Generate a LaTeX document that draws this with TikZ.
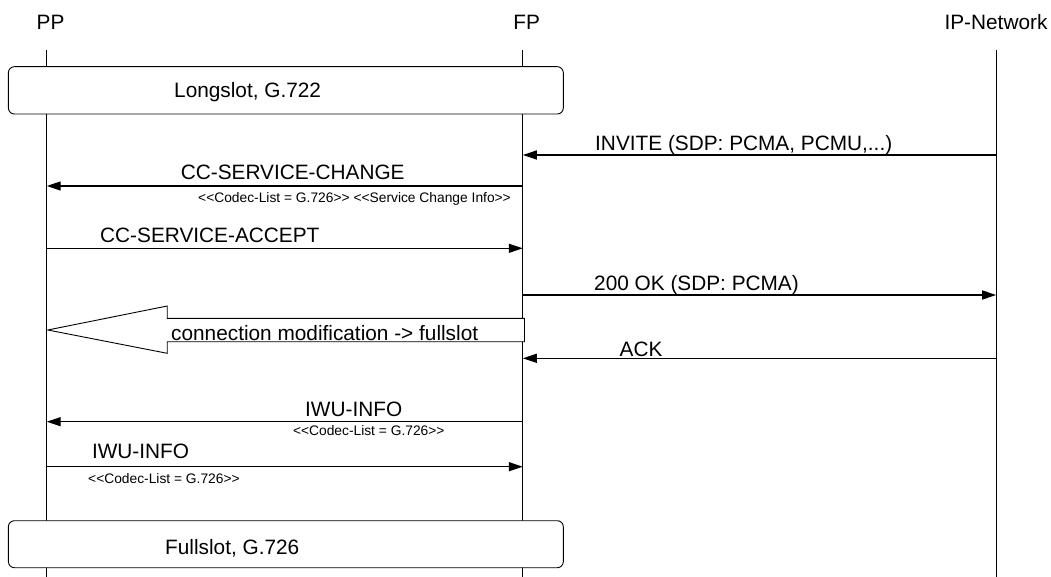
\documentclass[tikz,border=0pt]{standalone}
\usepackage{fontspec}
\setmainfont{Liberation Sans}
\usetikzlibrary{arrows.meta}
\begin{document}
\begin{tikzpicture}[x=1pt,y=-1pt,
  lbl/.style={font=\fontsize{20.8}{24}\selectfont, inner sep=0pt, anchor=base west},
  small/.style={font=\fontsize{13.8}{16}\selectfont, inner sep=0pt, anchor=base west},
  head/.style={font=\fontsize{20.8}{24}\selectfont, inner sep=0pt, anchor=base},
  life/.style={line width=0.9pt},
  msg/.style={line width=1.4pt, -{Triangle[length=14pt,width=9pt]}},
  phase/.style={draw, line width=0.9pt, rounded corners=6pt, fill=white, inner sep=0pt},
  bigarrow/.style={draw, line width=0.9pt, fill=white}]

\useasboundingbox (0,0) rectangle (1051,577);

% headers
\node[head] (PP) at (50.5,30) {PP};
\node[head] (FP) at (526.7,30) {FP};
\node[head] (IP) at (996,30) {IP-Network};

% lifelines
\coordinate (pptop) at (46.7,50);
\coordinate (ppbot) at (46.7,577);
\coordinate (fptop) at (522.8,50);
\coordinate (fpbot) at (522.8,577);
\coordinate (iptop) at (996.2,50);
\coordinate (ipbot) at (996.2,577);
\draw[life] (pptop) -- (ppbot);
\draw[life] (fptop) -- (fpbot);
\draw[life] (iptop) -- (ipbot);

% phase boxes
\node[phase, minimum width=554.9pt, minimum height=47.3pt] (long) at (285.85,90.35) {};
\node[lbl] (longtxt) at (174,98) {Longslot, G.722};
\node[phase, minimum width=554.9pt, minimum height=47pt] (full) at (285.85,544.2) {};
\node[lbl] (fulltxt) at (165,554.7) {Fullslot, G.726};

% INVITE
\coordinate (ip1) at (996.2,155);
\coordinate (fp1) at (522.8,155);
\draw[msg] (ip1) -- (fp1);
\node[lbl] (invite) at (595,151) {INVITE (SDP: PCMA, PCMU,...)};

% CC-SERVICE-CHANGE
\coordinate (fp2) at (522.8,186);
\coordinate (pp2) at (46.7,186);
\draw[msg] (fp2) -- (pp2);
\node[lbl] (ccsc) at (180.6,180) {CC-SERVICE-CHANGE};
\node[small] (ccscinfo) at (198,203) {<{}<Codec-List = G.726>{}> <{}<Service Change Info>{}>};

% CC-SERVICE-ACCEPT
\coordinate (pp3) at (46.7,248.3);
\coordinate (fp3) at (522.8,248.3);
\draw[msg] (pp3) -- (fp3);
\node[lbl] (ccsa) at (100,243) {CC-SERVICE-ACCEPT};

% 200 OK
\coordinate (fp4) at (522.8,295);
\coordinate (ip4) at (996.2,295);
\draw[msg] (fp4) -- (ip4);
\node[lbl] (ok) at (594,290.5) {200 OK (SDP: PCMA)};

% connection modification big arrow
\coordinate (ca1) at (47.8,330);
\coordinate (ca2) at (167.2,306);
\coordinate (ca3) at (167.2,318.3);
\coordinate (ca4) at (524.5,318.3);
\coordinate (ca5) at (524.5,341.7);
\coordinate (ca6) at (167.2,341.7);
\coordinate (ca7) at (167.2,353.3);
\draw[bigarrow] (ca1) -- (ca2) -- (ca3) -- (ca4) -- (ca5) -- (ca6) -- (ca7) -- cycle;
\node[lbl] (conn) at (171,340) {connection modification -> fullslot};

% ACK
\coordinate (ip5) at (996.2,358.3);
\coordinate (fp5) at (522.8,358.3);
\draw[msg] (ip5) -- (fp5);
\node[lbl] (ack) at (619.5,356.7) {ACK};

% IWU-INFO (FP -> PP)
\coordinate (fp6) at (522.8,421.7);
\coordinate (pp6) at (46.7,421.7);
\draw[msg] (fp6) -- (pp6);
\node[lbl] (iwu1) at (305,416) {IWU-INFO};
\node[small] (iwu1info) at (292.8,435.7) {<{}<Codec-List = G.726>{}>};

% IWU-INFO (PP -> FP)
\coordinate (pp7) at (46.7,466.7);
\coordinate (fp7) at (522.8,466.7);
\draw[msg] (pp7) -- (fp7);
\node[lbl] (iwu2) at (91.8,458) {IWU-INFO};
\node[small] (iwu2info) at (88,483) {<{}<Codec-List = G.726>{}>};

\end{tikzpicture}
\end{document}
